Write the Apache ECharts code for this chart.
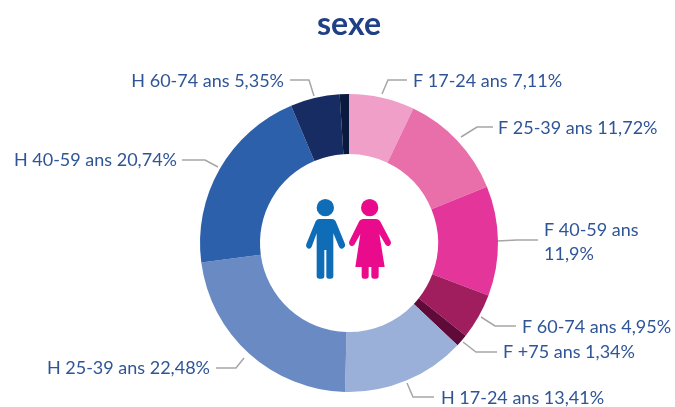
<!DOCTYPE html>
<html><head><meta charset="utf-8">
<style>html,body{margin:0;padding:0;background:#fff}#c{width:675px;height:407px}</style>
<script src="https://cdn.jsdelivr.net/npm/echarts@6/dist/echarts.min.js"></script>
</head><body><div id="c"></div>
<script>
const categories = ['F 17-24 ans','F 25-39 ans','F 40-59 ans','F 60-74 ans','F +75 ans','H 17-24 ans','H 25-39 ans','H 40-59 ans','H 60-74 ans','H +75 ans'];
const values = [7.11,11.72,11.9,4.95,1.34,13.41,22.48,20.74,5.35,1.0];
const valueLabels = ['7,11%','11,72%','11,9%','4,95%','1,34%','13,41%','22,48%','20,74%','5,35%',''];
const colors = ['#f0a0c8','#e96fab','#e4369a','#a01d5e','#5f0a38','#9ab0d8','#6a8ac4','#2d60aa','#172c63','#0a1a3e'];
const labelPos = [[413,81.5],[498,128.5],[544,242.5],[522,327.5],[503,352.5],[441,398.5],[210,368.5],[177,160.5],[284,81.5],null];
const leaderLines = [
 [[382,94],[388,80],[407,80]],
 [[461,137],[477,127],[493,127]],
 [[497,241],[517,240],[538,240]],
 [[481,317],[495,326],[516,326]],
 [[463,342],[476,352],[497,352]],
 [[407,383],[413,397],[434,397]],
 [[244,358],[236,368],[216,368]],
 [[218,167],[205,160],[182,160]],
 [[314,96],[309,80],[290,80]],
 null];
const chart = echarts.init(document.getElementById('c'), null, {renderer:'canvas'});
const font = 'Lato, Carlito, sans-serif';
const maleIcon = 'M118 147L156 147Q163 147 167 154L195 222Q197 232 187 236Q180 237 177 230L160 190L160 318Q160 326 152 326L146 326Q139 326 139 318L139 240L133 240L133 318Q133 326 125 326L118 326Q110 326 110 318L110 190L95 230Q92 237 85 236Q76 232 79 222L107 154Q111 147 118 147Z';
const femaleIcon = 'M250 147L288 147Q295 147 300 153L332 214Q335 222 328 227Q322 230 317 224L298 192L314 291L296 291L296 318Q296 326 288 326L282 326Q274 326 274 318L274 291L266 291L266 318Q266 326 258 326L252 326Q245 326 245 318L245 291L226 291L241 192L223 224Q218 230 212 227Q205 222 208 214L238 153Q243 147 250 147Z';
echarts.graphic.registerShape('maleIcon', echarts.graphic.extendPath(maleIcon, {}));
echarts.graphic.registerShape('femaleIcon', echarts.graphic.extendPath(femaleIcon, {}));
chart.setOption({
 animation:false,
 backgroundColor:'#fff',
 title:{text:'sexe',left:312,top:4,textStyle:{fontFamily:font,fontSize:32,fontWeight:'bold',color:'#1f3f87'}},
 graphic:[
  {type:'group',x:280,y:170,scaleX:1/3,scaleY:1/3,silent:true,children:[
    {type:'maleIcon',style:{fill:'#0f6cb6'}},
    {type:'circle',shape:{cx:136,cy:113,r:26},style:{fill:'#0f6cb6'}},
    {type:'femaleIcon',style:{fill:'#ea0a8c'}},
    {type:'circle',shape:{cx:269,cy:113,r:26},style:{fill:'#ea0a8c'}}
  ]}
 ],
 series:[{
  type:'pie',
  center:[349,243],
  radius:[89,149],
  startAngle:90,
  clockwise:true,
  silent:true,
  data:categories.map((n,i)=>({name:n,value:values[i],itemStyle:{color:colors[i]},
     label:{show:!!labelPos[i]},labelLine:{show:!!labelPos[i]}})),
  label:{
    position:'outside',overflow:'none',
    fontFamily:font,fontSize:18,color:'#2f5597',lineHeight:24,
    formatter:p=>{
      const i=p.dataIndex;
      return i===2 ? categories[i]+'\n'+valueLabels[i] : categories[i]+' '+valueLabels[i];
    }
  },
  labelLine:{lineStyle:{color:'#a6a6a6',width:1.5}},
  labelLayout:p=>{
    const i=p.dataIndex;
    if(!labelPos[i]) return {};
    return {x:labelPos[i][0],y:labelPos[i][1],align:(i===6||i===7||i===8)?'right':'left',verticalAlign:'middle',labelLinePoints:leaderLines[i]};
  }
 }]
});
</script></body></html>
